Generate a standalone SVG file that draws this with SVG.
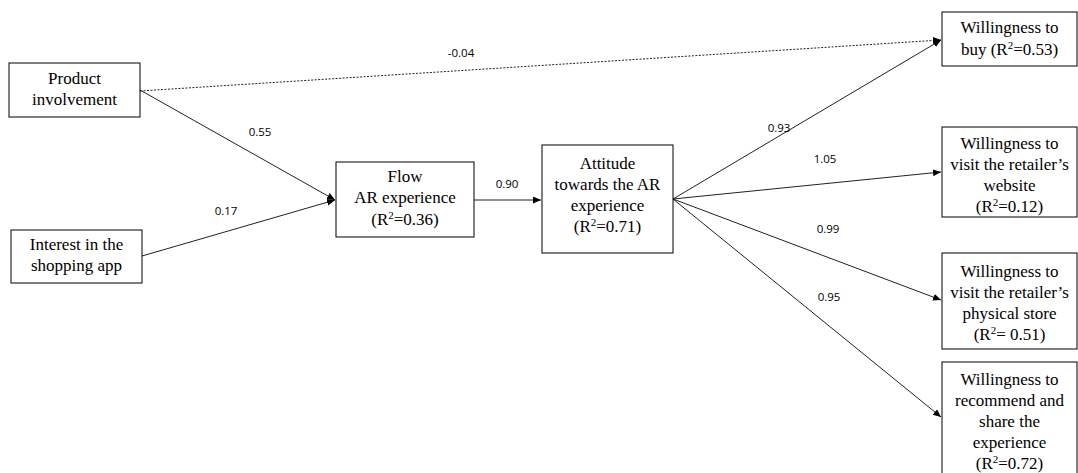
<svg xmlns="http://www.w3.org/2000/svg" width="1078" height="473" viewBox="0 0 1078 473">
<style>
.box{fill:#fff;stroke:#000;stroke-width:1}
.t{font-family:"Liberation Serif","Times New Roman",Tinos,serif;font-size:17px;fill:#000;text-anchor:middle}
.lbl{font-family:"Open Sans","Liberation Sans",sans-serif;font-size:11.5px;fill:#000;text-anchor:middle}
.ln{stroke:#222;stroke-width:1;fill:none}
.dot{stroke:#222;stroke-width:1;fill:none;stroke-dasharray:2 1.5}
.sup{font-size:11px}
</style>
<defs>
<marker id="ah" markerUnits="userSpaceOnUse" markerWidth="9" markerHeight="8" refX="8" refY="3.5" orient="auto">
<path d="M0,0 L8,3.5 L0,7 z" fill="#000"/>
</marker>
</defs>
<rect width="1078" height="473" fill="#fff"/>
<g id="connectors">
<line class="dot" x1="140" y1="91" x2="941" y2="40" marker-end="url(#ah)"/>
<line class="ln" x1="140" y1="90" x2="335" y2="200" marker-end="url(#ah)"/>
<line class="ln" x1="142" y1="256" x2="335" y2="200" marker-end="url(#ah)"/>
<line class="ln" x1="474" y1="200" x2="541" y2="200" marker-end="url(#ah)"/>
<line class="ln" x1="673" y1="199" x2="941" y2="40" marker-end="url(#ah)"/>
<line class="ln" x1="673" y1="199" x2="941" y2="172" marker-end="url(#ah)"/>
<line class="ln" x1="673" y1="199" x2="941" y2="300" marker-end="url(#ah)"/>
<line class="ln" x1="673" y1="199" x2="941" y2="417" marker-end="url(#ah)"/>
<text class="lbl" x="461" y="57">-0.04</text>
<text class="lbl" x="260" y="136">0.55</text>
<text class="lbl" x="226" y="215">0.17</text>
<text class="lbl" x="507" y="188">0.90</text>
<text class="lbl" x="779" y="132">0.93</text>
<text class="lbl" x="825" y="163">1.05</text>
<text class="lbl" x="828" y="233">0.99</text>
<text class="lbl" x="829" y="301">0.95</text>
</g>
<g id="product">
<rect class="box" x="9" y="63" width="131" height="54"/>
<text class="t" x="74.5" y="84">Product</text>
<text class="t" x="74.5" y="105">involvement</text>
</g>
<g id="interest">
<rect class="box" x="11" y="230" width="131" height="53"/>
<text class="t" x="76.5" y="250">Interest in the</text>
<text class="t" x="76.5" y="271">shopping app</text>
</g>
<g id="flow">
<rect class="box" x="336" y="162" width="138" height="75"/>
<text class="t" x="405" y="182">Flow</text>
<text class="t" x="405" y="203">AR experience</text>
<text class="t" x="405" y="225">(R<tspan class="sup" dy="-6">2</tspan><tspan dy="6">=0.36)</tspan></text>
</g>
<g id="attitude">
<rect class="box" x="542" y="145" width="131" height="108"/>
<text class="t" x="607.5" y="169">Attitude</text>
<text class="t" x="607.5" y="190">towards the AR</text>
<text class="t" x="607.5" y="211">experience</text>
<text class="t" x="607.5" y="232">(R<tspan class="sup" dy="-6">2</tspan><tspan dy="6">=0.71)</tspan></text>
</g>
<g id="buy">
<rect class="box" x="942" y="12" width="135" height="54"/>
<text class="t" x="1009.5" y="33">Willingness to</text>
<text class="t" x="1009.5" y="55">buy (R<tspan class="sup" dy="-6">2</tspan><tspan dy="6">=0.53)</tspan></text>
</g>
<g id="website">
<rect class="box" x="942" y="127" width="135" height="90"/>
<text class="t" x="1009.5" y="149">Willingness to</text>
<text class="t" x="1009.5" y="170">visit the retailer’s</text>
<text class="t" x="1009.5" y="191">website</text>
<text class="t" x="1009.5" y="212">(R<tspan class="sup" dy="-6">2</tspan><tspan dy="6">=0.12)</tspan></text>
</g>
<g id="store">
<rect class="box" x="942" y="253" width="135" height="96"/>
<text class="t" x="1009.5" y="277">Willingness to</text>
<text class="t" x="1009.5" y="298">visit the retailer’s</text>
<text class="t" x="1009.5" y="319">physical store</text>
<text class="t" x="1009.5" y="340">(R<tspan class="sup" dy="-6">2</tspan><tspan dy="6">= 0.51)</tspan></text>
</g>
<g id="recommend">
<rect class="box" x="942" y="362" width="135" height="120"/>
<text class="t" x="1009.5" y="385">Willingness to</text>
<text class="t" x="1009.5" y="406">recommend and</text>
<text class="t" x="1009.5" y="427">share the</text>
<text class="t" x="1009.5" y="448">experience</text>
<text class="t" x="1009.5" y="469">(R<tspan class="sup" dy="-6">2</tspan><tspan dy="6">=0.72)</tspan></text>
</g>
</svg>
